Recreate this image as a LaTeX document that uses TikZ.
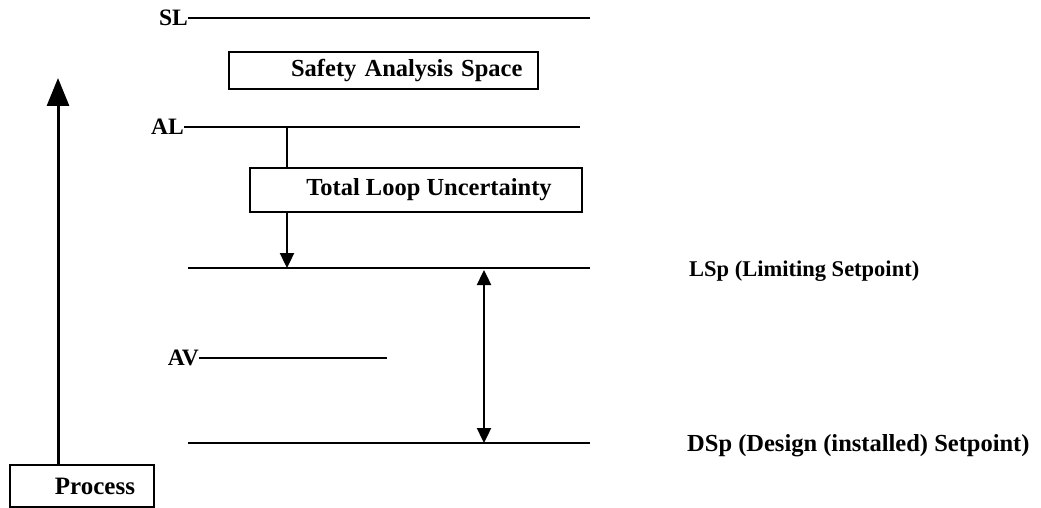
\documentclass[tikz,border=0pt]{standalone}
\usepackage{fontspec}
\setmainfont{Liberation Serif}
\usetikzlibrary{arrows.meta}
\tikzstyle{box} = [rectangle, draw=black, line width=2pt, inner sep=0pt, font=\fontsize{24.5}{27}\selectfont\bfseries]
\tikzstyle{lbl} = [inner sep=0pt, font=\fontsize{22.5}{25}\selectfont\bfseries]
\tikzstyle{tag} = [inner sep=0pt, font=\fontsize{23.5}{26}\selectfont\bfseries]
\tikzstyle{level} = [line width=2.4pt]
\tikzstyle{arrow} = [line width=2.4pt, -{Triangle[length=15pt,width=14pt]}]
\tikzstyle{bigarrow} = [line width=3pt, -{Triangle[length=28pt,width=22pt]}]

\begin{document}
\begin{tikzpicture}[x=1pt, y=-1pt]
\useasboundingbox (0,0) rectangle (1041,508);

% Level labels
\node (SL) [tag, anchor=east] at (188,18) {SL};
\node (AL) [tag, anchor=east] at (184,127) {AL};
\node (AV) [tag, anchor=east] at (199,358) {AV};
\node (LSp) [lbl, anchor=west] at (689,271) {LSp (Limiting Setpoint)};
\node (DSp) [lbl, anchor=west, font=\fontsize{24.5}{27}\selectfont\bfseries] at (687,446) {DSp (Design (installed) Setpoint)};

% Boxes
\node (SAS) [box, minimum width=309pt, minimum height=37pt, text width=278pt, align=right] at (383.5,70.5) {Safety Analysis Space};
\node (TLU) [box, minimum width=332pt, minimum height=44pt, align=center] at (416,190) {\hspace*{26pt}Total Loop Uncertainty};
\node (proc) [box, minimum width=144pt, minimum height=42pt, align=center, font=\fontsize{25}{28}\selectfont\bfseries] at (82,486) {\hspace*{26pt}\raisebox{-5pt}{Process}};

% Line ends
\coordinate (SLend) at (590,18);
\coordinate (ALend) at (580,127);
\coordinate (LSpL) at (188,268);
\coordinate (LSpR) at (590,268);
\coordinate (AVend) at (387,358);
\coordinate (DSpL) at (188,443);
\coordinate (DSpR) at (590,443);
\coordinate (ALtap) at (287,127);
\coordinate (LSptap) at (287,268);
\coordinate (spanT) at (484,270);
\coordinate (spanB) at (484,443);
\coordinate (rise) at (58,78);

% Levels
\draw [level] (SL.east) -- (SLend);
\draw [level] (AL.east) -- (ALend);
\draw [level] (LSpL) -- (LSpR);
\draw [level] (AV.east) -- (AVend);
\draw [level] (DSpL) -- (DSpR);

% Arrows
\draw [level] (ALtap) -- (ALtap |- TLU.north);
\draw [arrow] (LSptap |- TLU.south) -- (LSptap);
\draw [arrow, {Triangle[length=15pt,width=14pt]}-{Triangle[length=15pt,width=14pt]}] (spanT) -- (spanB);
\draw [bigarrow] (rise |- proc.north) -- (rise);

\end{tikzpicture}
\end{document}
